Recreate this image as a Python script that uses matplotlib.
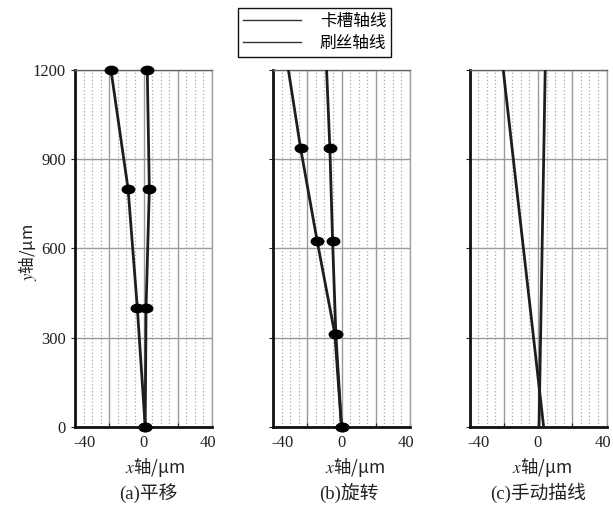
import matplotlib
matplotlib.use('Agg')
import matplotlib.pyplot as plt
from matplotlib.lines import Line2D
from matplotlib.markers import MarkerStyle
from matplotlib.transforms import Affine2D, ScaledTranslation
from matplotlib.ticker import MultipleLocator

plt.rcParams['font.family'] = ['Liberation Serif', 'Noto Sans CJK SC']
plt.rcParams['mathtext.fontset'] = 'stix'

legend_labels = ['卡槽轴线', '刷丝轴线']
panel_titles = ['(a)平移', '(b)旋转', '(c)手动描线']
x_ticks = [-40, -20, 0, 20, 40]
x_ticklabels = ['-40', '', '0', '', '40']
y_ticks = [0, 300, 600, 900, 1200]

# (a) 平移
a_y = [0, 400, 800, 1200]
a_kacao = [1, -3.6, -9, -19]
a_shuasi = [1, 1.5, 3.4, 2.2]
a_marked = 4

# (b) 旋转 -- last point is only where the line ends
b_y = [0, 312.5, 625, 937.5, 1200]
b_kacao = [0, -3.9, -14.2, -23.9, -31]
b_shuasi = [0, -3.3, -5.2, -6.8, -8.7]
b_marked = 4

# (c) 手动描线, no measured points
c_y = [0, 1200]
c_kacao = [3.3, -20.3]
c_shuasi = [0.6, 4.2]
c_marked = 0

panels = [(a_y, a_kacao, a_shuasi, a_marked),
          (b_y, b_kacao, b_shuasi, b_marked),
          (c_y, c_kacao, c_shuasi, c_marked)]

W, H = 613, 505
fig = plt.figure(figsize=(W / 100, H / 100), dpi=100)
lefts = [75, 273, 469.5]
# small horizontal nudges (px) of the label rows, as in the scan
xlab_shift = [11, 13, 4]
title_shift = [5, 7, 0]
ell = MarkerStyle('o', transform=Affine2D().scale(1.5, 1.0))

for i, (ys, xk, xs, nm) in enumerate(panels):
    ax = fig.add_axes([lefts[i] / W, 1 - 427 / H, 137 / W, 357 / H])
    ax.set_xlim(-40, 40)
    ax.set_ylim(0, 1200)
    ax.set_axisbelow(True)

    ax.set_xticks(x_ticks)
    ax.set_xticklabels(x_ticklabels)
    ax.xaxis.set_minor_locator(MultipleLocator(5))
    ax.set_yticks(y_ticks)
    ax.grid(which='minor', axis='x', color='#a8a8a8', lw=0.9, ls=(0, (1, 1.8)))
    ax.grid(which='major', color='#9a9a9a', lw=1.0)
    ax.tick_params(axis='x', which='major', direction='in', length=3,
                   labelsize=12, pad=6, colors='#222222')
    ax.tick_params(axis='x', which='minor', length=0)
    ax.tick_params(axis='y', direction='out', length=3, labelsize=12,
                   labelleft=(i == 0), colors='#222222')

    labs = ax.get_xticklabels()
    for lab, dx in ((labs[0], 9), (labs[-1], -4)):
        lab.set_transform(lab.get_transform() +
                          ScaledTranslation(dx / 100, 0, fig.dpi_scale_trans))

    for s in ['left', 'bottom']:
        ax.spines[s].set_linewidth(2.0)
        ax.spines[s].set_color('#111111')
    ax.spines['top'].set_linewidth(1.0)
    ax.spines['top'].set_color('#666666')
    ax.spines['right'].set_linewidth(1.0)
    ax.spines['right'].set_color('#a0a0a0')

    for xv in (xk, xs):
        ax.plot(xv, ys, color='#1e1e1e', lw=2.0, zorder=3)
        if nm:
            ax.plot(xv[:nm], ys[:nm], ls='none', marker=ell, ms=6,
                    color='#000000', clip_on=False, zorder=4)

    ax.text(0.5 + xlab_shift[i] / 137, -0.112, '$x$轴/μm', transform=ax.transAxes,
            ha='center', va='center', fontsize=12.5, family='Noto Sans CJK SC',
            color='#222222')
    ax.text(0.5 + title_shift[i] / 137, -0.185, panel_titles[i],
            transform=ax.transAxes, ha='center', va='center', fontsize=13.5,
            color='#222222')
    if i == 0:
        ax.text(-0.35, 0.49, '$y$轴/μm', transform=ax.transAxes, ha='center',
                va='center', rotation=90, fontsize=12,
                family='Noto Sans CJK SC', color='#222222')

handles = [Line2D([], [], color='#333333', lw=1.0) for _ in legend_labels]
fig.legend(handles, legend_labels, loc='upper left',
           bbox_to_anchor=(238 / W, 1 - 8 / H), borderaxespad=0,
           fancybox=False, edgecolor='#111111', framealpha=1,
           handlelength=3.5, handletextpad=1.1, labelspacing=0.3,
           borderpad=0.3,
           prop={'family': 'Noto Sans CJK SC', 'size': 12})

fig.savefig('out.png', dpi=100)
